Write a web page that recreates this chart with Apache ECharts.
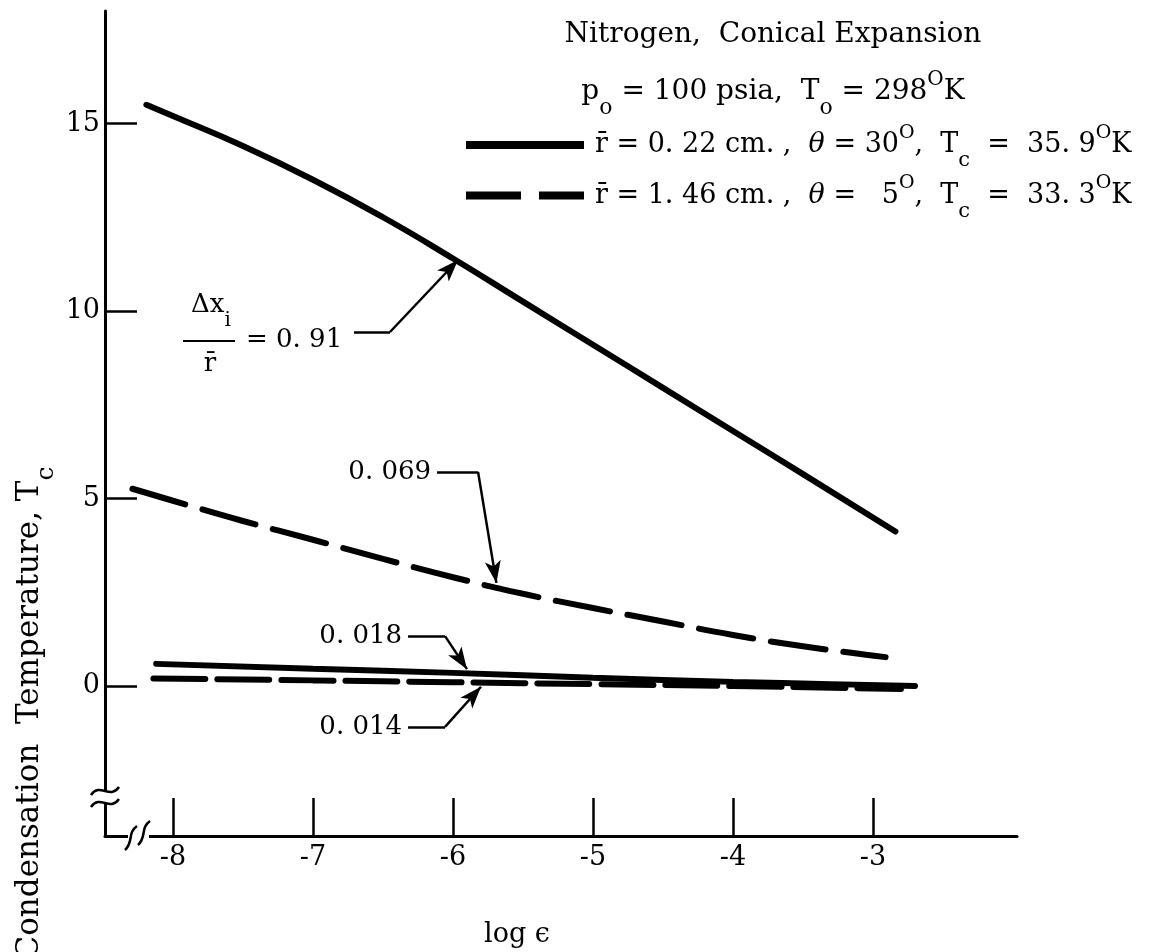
<!DOCTYPE html>
<html>
<head>
<meta charset="utf-8">
<title>Nitrogen, Conical Expansion</title>
<script src="https://cdn.jsdelivr.net/npm/echarts@6/dist/echarts.min.js"></script>
<style>
  html, body { margin: 0; padding: 0; background: #fff; }
  #chart { width: 1162px; height: 952px; }
</style>
</head>
<body>
<div id="chart"></div>
<script>
// curves: x = log(eps), y = condensation temperature Tc
// labelled by delta x_i / r-bar
var logEps091 = [-8.19, -8, -7.5, -7, -6.5, -6, -5.5, -5, -4.5, -4, -3.5, -2.84];
var tc091     = [15.5, 15.2, 14.4, 13.5, 12.5, 11.4, 10.25, 9.1, 7.95, 6.8, 5.65, 4.12];
var logEps069 = [-8.29, -8, -7.5, -7, -6.5, -6, -5.5, -5, -4.5, -4, -3.5, -2.91];
var tc069     = [5.26, 4.94, 4.4, 3.9, 3.39, 2.9, 2.46, 2.08, 1.72, 1.36, 1.06, 0.77];
var logEps018 = [-8.12, -7, -6, -5, -4, -3.3, -2.7];
var tc018     = [0.59, 0.46, 0.35, 0.22, 0.11, 0.05, 0.0];
var logEps014 = [-8.14, -7, -6, -5, -4, -2.8];
var tc014     = [0.2, 0.15, 0.1, 0.05, 0.0, -0.08];

var xTicks = [-8, -7, -6, -5, -4, -3];
var yTicks = [0, 5, 10, 15];

var nameSolid  = 'r̄ = 0.22 cm., θ = 30°, Tc = 35.9°K';
var nameDashed = 'r̄ = 1.46 cm., θ = 5°, Tc = 33.3°K';

var FONT = 'DejaVu Serif';

// leader lines (text, elbow start, elbow end, arrow tip), in axis units
var leaders = [
    ['',       [-6.707, 9.44],  [-6.45, 9.44],   [-5.964, 11.36]],
    ['0. 069', [-6.114, 5.71],  [-5.821, 5.71],  [-5.69, 2.75]],
    ['0. 018', [-6.321, 1.33],  [-6.057, 1.33],  [-5.9, 0.45]],
    ['0. 014', [-6.321, -1.09], [-6.057, -1.09], [-5.8, -0.02]]
];

function pairs(xs, ys) {
    return xs.map(function (x, i) { return [x, ys[i]]; });
}

// rich styles for sub / superscripts
function richSet(size) {
    return {
        n:   { fontFamily: FONT, fontSize: size, lineHeight: 46, color: '#000' },
        it:  { fontFamily: FONT, fontSize: size, lineHeight: 46, fontStyle: 'italic', color: '#000' },
        sub: { fontFamily: FONT, fontSize: size - 6, lineHeight: 14, height: 14, verticalAlign: 'bottom', color: '#000' },
        sup: { fontFamily: FONT, fontSize: size - 8, lineHeight: 22, height: 22, verticalAlign: 'top', color: '#000' }
    };
}

var legendText = {};
legendText[nameSolid]  = '{n|r̄ = 0. 22 cm. ,  }{it|θ}{n| = 30}{sup|O}{n|,  T}{sub|c}{n|  =  35. 9}{sup|O}{n|K}';
legendText[nameDashed] = '{n|r̄ = 1. 46 cm. ,  }{it|θ}{n| =   5}{sup|O}{n|,  T}{sub|c}{n|  =  33. 3}{sup|O}{n|K}';

var mlData = [];
leaders.forEach(function (l) {
    var lab = {
        show: !!l[0], position: 'start', distance: 6, formatter: l[0],
        fontFamily: FONT, fontSize: 26, color: '#000'
    };
    mlData.push([{ coord: l[1], label: lab }, { coord: l[2], label: lab }]);
    mlData.push([
        { coord: l[2], label: { show: false } },
        { coord: l[3], symbol: 'arrow', symbolSize: [12, 22], label: { show: false } }
    ]);
});

function lineSeries(name, data, dash, extra) {
    var s = {
        name: name,
        type: 'line',
        data: data,
        smooth: true,
        symbol: 'none',
        showSymbol: false,
        silent: true,
        itemStyle: { color: '#000' },
        lineStyle: { color: '#000', width: 6, type: dash, cap: 'round' },
        emphasis: { disabled: true },
        z: 3
    };
    return Object.assign(s, extra || {});
}

function curve(x1, y1, cx1, cy1, cx2, cy2, x2, y2) {
    return {
        type: 'bezierCurve', z: 101, silent: true,
        shape: { x1: x1, y1: y1, cpx1: cx1, cpy1: cy1, cpx2: cx2, cpy2: cy2, x2: x2, y2: y2 },
        style: { stroke: '#000', lineWidth: 2.5, fill: null }
    };
}

var chart = echarts.init(document.getElementById('chart'), null, { renderer: 'canvas' });

var option = {
    backgroundColor: '#fff',
    animation: false,
    textStyle: { fontFamily: FONT, color: '#000' },
    title: {
        text: 'Nitrogen,  Conical Expansion',
        subtext: '{n|p}{sub|o}{n| = 100 psia,  T}{sub|o}{n| = 298}{sup|O}{n|K}',
        left: 773,
        top: 15,
        textAlign: 'center',
        padding: 0,
        itemGap: 14,
        textStyle: { fontFamily: FONT, fontSize: 28, fontWeight: 'normal', color: '#000', lineHeight: 40 },
        subtextStyle: { fontFamily: FONT, fontSize: 28, color: '#000', rich: richSet(28) }
    },
    legend: {
        data: [nameSolid, nameDashed],
        orient: 'vertical',
        left: 462,
        top: 122,
        padding: 0,
        itemGap: 1,
        itemWidth: 118,
        itemHeight: 10,
        selectedMode: false,
        itemStyle: { opacity: 0 },
        lineStyle: { width: 8, color: '#000', cap: 'butt' },
        formatter: function (name) { return legendText[name]; },
        textStyle: { fontFamily: FONT, fontSize: 27, color: '#000', padding: [0, 0, 0, 6], rich: richSet(27) }
    },
    grid: {
        left: 105, top: 11, width: 912, height: 825,
        containLabel: false, outerBoundsMode: 'none'
    },
    xAxis: {
        type: 'value',
        min: -8.4857,
        max: -1.9714,
        axisLine: { onZero: false, lineStyle: { color: '#000', width: 3 } },
        axisTick: { inside: true, length: 38, customValues: xTicks, lineStyle: { color: '#000', width: 2.5 } },
        axisLabel: { customValues: xTicks, margin: 8, fontFamily: FONT, fontSize: 27, color: '#000' },
        splitLine: { show: false }
    },
    yAxis: {
        type: 'value',
        min: -4,
        max: 18,
        axisLine: { show: true, onZero: false, lineStyle: { color: '#000', width: 3 } },
        axisTick: { show: true, inside: true, length: 32, customValues: yTicks, lineStyle: { color: '#000', width: 2.5 } },
        axisLabel: { customValues: yTicks, margin: 5, padding: [14, 0, 0, 0], fontFamily: FONT, fontSize: 27, color: '#000' },
        splitLine: { show: false }
    },
    series: [
        lineSeries(nameSolid, pairs(logEps091, tc091), 'solid', {
            markLine: {
                silent: true,
                animation: false,
                symbol: ['none', 'none'],
                lineStyle: { color: '#000', width: 2.5, type: 'solid' },
                label: { show: false },
                emphasis: { disabled: true },
                data: mlData
            }
        }),
        lineSeries(nameDashed, pairs(logEps069, tc069), [55, 18]),
        lineSeries(nameSolid, pairs(logEps018, tc018), 'solid'),
        lineSeries(nameDashed, pairs(logEps014, tc014), [52, 12])
    ],
    graphic: [
        // y axis title
        {
            type: 'text', x: 30, y: 713, rotation: Math.PI / 2, silent: true,
            style: {
                text: '{n|Condensation  Temperature, T}{sub|c}',
                rich: richSet(31), align: 'center', verticalAlign: 'middle'
            }
        },
        // x axis title
        {
            type: 'text', x: 517, y: 935, silent: true,
            style: { text: 'log ϵ', fontFamily: FONT, fontSize: 27, fill: '#000', align: 'center', verticalAlign: 'middle' }
        },
        // delta x_i / r-bar = 0.91
        {
            type: 'text', x: 211, y: 305, silent: true,
            style: { text: '{n|Δx}{sub|i}', rich: richSet(26), align: 'center', verticalAlign: 'middle' }
        },
        {
            type: 'line', silent: true,
            shape: { x1: 183, y1: 341, x2: 235, y2: 341 },
            style: { stroke: '#000', lineWidth: 2 }
        },
        {
            type: 'text', x: 210, y: 364, silent: true,
            style: { text: 'r̄', fontFamily: FONT, fontSize: 26, fill: '#000', align: 'center', verticalAlign: 'middle' }
        },
        {
            type: 'text', x: 246, y: 340, silent: true,
            style: { text: '= 0. 91', fontFamily: FONT, fontSize: 26, fill: '#000', align: 'left', verticalAlign: 'middle' }
        },
        // axis breaks
        {
            type: 'rect', z: 100, silent: true,
            shape: { x: 99, y: 790, width: 12, height: 12 },
            style: { fill: '#fff' }
        },
        curve(91, 795, 100, 782, 110, 800, 119, 787),
        curve(91, 807, 100, 794, 110, 812, 119, 799),
        {
            type: 'rect', z: 100, silent: true,
            shape: { x: 128, y: 829, width: 21, height: 12 },
            style: { fill: '#fff' }
        },
        curve(137, 826, 127, 833, 134, 842, 125, 850),
        curve(150, 821, 140, 828, 147, 837, 138, 845)
    ]
};

chart.setOption(option);
</script>
</body>
</html>
